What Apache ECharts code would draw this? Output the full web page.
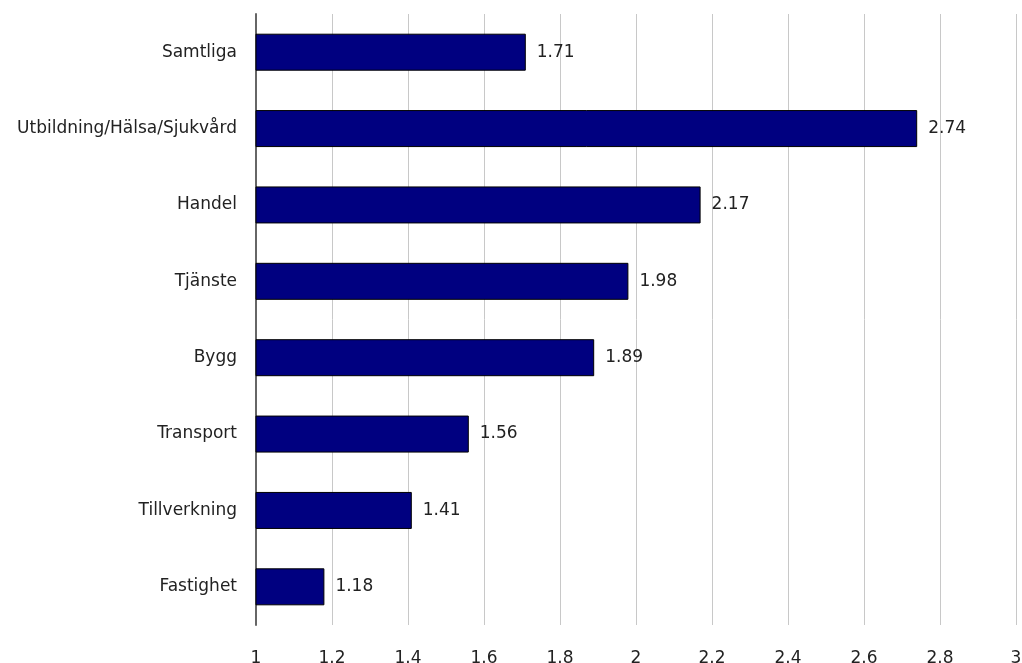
<!DOCTYPE html>
<html>
<head>
<meta charset="utf-8">
<script src="https://cdn.jsdelivr.net/npm/echarts@6/dist/echarts.min.js"></script>
<style>
  html, body { margin: 0; padding: 0; background: #ffffff; }
  #chart { width: 1022px; height: 663px; }
</style>
</head>
<body>
<div id="chart"></div>
<script>
// Sectors, listed top to bottom
const categories = ['Samtliga', 'Utbildning/Hälsa/Sjukvård', 'Handel', 'Tjänste', 'Bygg', 'Transport', 'Tillverkning', 'Fastighet'];
const values = [1.71, 2.74, 2.17, 1.98, 1.89, 1.56, 1.41, 1.18];

const FONT = '"DejaVu Sans", "Liberation Sans", sans-serif';

const chart = echarts.init(document.getElementById('chart'));
chart.setOption({
  animation: false,
  backgroundColor: '#ffffff',
  grid: { left: 256, right: 6, top: 14, bottom: 38, containLabel: false, outerBoundsMode: 'none' },
  xAxis: {
    type: 'value',
    min: 1,
    max: 3,
    interval: 0.2,
    axisLine: { show: false },
    axisTick: { show: false },
    axisLabel: {
      color: '#222222',
      fontFamily: FONT,
      fontSize: 17,
      margin: 25,
      formatter: v => String(Math.round(v * 10) / 10)
    },
    splitLine: { show: true, lineStyle: { color: '#c8c8c8', width: 1 } }
  },
  yAxis: {
    type: 'category',
    data: categories,
    inverse: true,
    axisLine: { show: true, lineStyle: { color: '#666666', width: 2 } },
    axisTick: { show: false },
    axisLabel: {
      color: '#222222',
      fontFamily: FONT,
      fontSize: 17,
      margin: 19
    }
  },
  series: [{
    type: 'bar',
    data: values,
    barWidth: 37,
    itemStyle: { color: '#000080', borderColor: '#000000', borderWidth: 1 },
    label: {
      show: true,
      position: 'right',
      distance: 11,
      color: '#222222',
      fontFamily: FONT,
      fontSize: 17,
      formatter: p => p.value.toFixed(2)
    }
  }]
});
</script>
</body>
</html>
